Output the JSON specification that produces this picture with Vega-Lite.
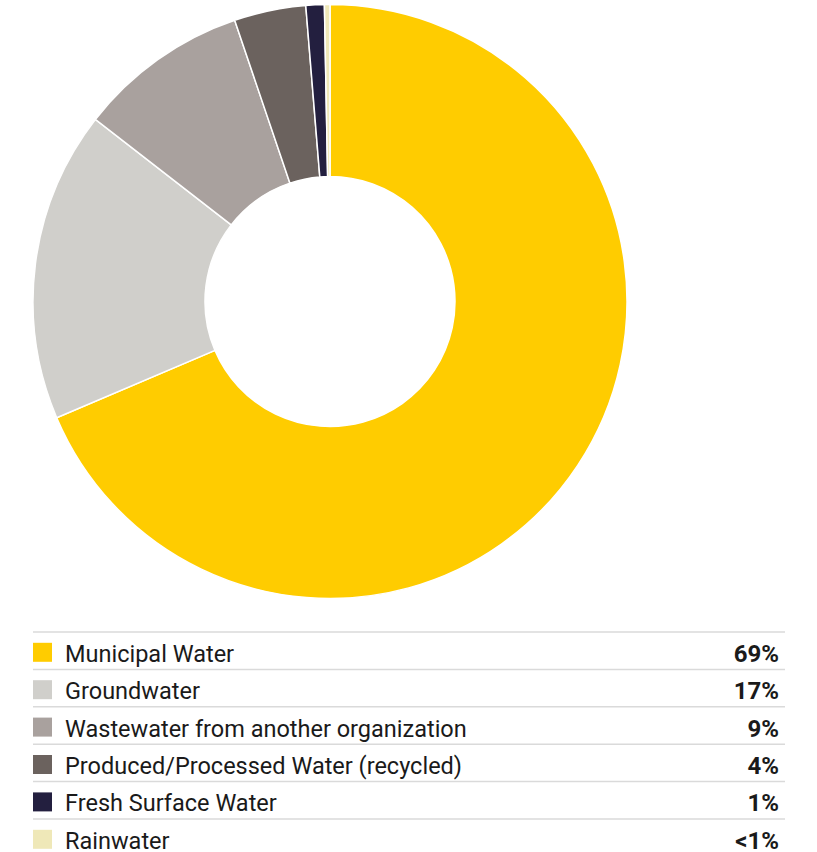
{
  "$schema": "https://vega.github.io/schema/vega-lite/v6.json",
  "padding": 0,
  "background": "white",
  "spacing": 28,
  "config": {"view": {"stroke": null}, "font": "Roboto"},
  "data": {"values": [
    {"order": 1, "source": "Municipal Water", "share": 68.6, "label": "69%"},
    {"order": 2, "source": "Groundwater", "share": 16.9, "label": "17%"},
    {"order": 3, "source": "Wastewater from another organization", "share": 9.3, "label": "9%"},
    {"order": 4, "source": "Produced/Processed Water (recycled)", "share": 3.9, "label": "4%"},
    {"order": 5, "source": "Fresh Surface Water", "share": 1.0, "label": "1%"},
    {"order": 6, "source": "Rainwater", "share": 0.3, "label": "<1%"}
  ]},
  "vconcat": [
    {
      "width": 660,
      "height": 603,
      "mark": {"type": "arc", "radius": 297, "innerRadius": 125, "stroke": "white", "strokeWidth": 1.5},
      "encoding": {
        "theta": {"field": "share", "type": "quantitative", "stack": true},
        "order": {"field": "order", "type": "quantitative"},
        "color": {
          "field": "source", "type": "nominal", "legend": null,
          "scale": {
            "domain": ["Municipal Water", "Groundwater", "Wastewater from another organization", "Produced/Processed Water (recycled)", "Fresh Surface Water", "Rainwater"],
            "range": ["#FFCC00", "#D0CFCB", "#A9A19E", "#6B625E", "#231F3F", "#EFE8B8"]
          }
        }
      }
    },
    {
      "width": 817,
      "height": {"step": 37.4},
      "encoding": {
        "y": {"field": "source", "type": "nominal", "sort": {"field": "order"}, "axis": null,
              "scale": {"paddingInner": 0, "paddingOuter": 0}}
      },
      "layer": [
        {
          "mark": {"type": "rule", "color": "#DADADA", "strokeWidth": 1.5},
          "encoding": {
            "y": {"field": "source", "type": "nominal", "sort": {"field": "order"}, "bandPosition": 0, "axis": null},
            "x": {"value": 33},
            "x2": {"value": 785}
          }
        },
        {
          "mark": {"type": "square", "size": 361, "opacity": 1, "filled": true, "yOffset": 1.6},
          "encoding": {
            "x": {"value": 42.5},
            "color": {"field": "source", "type": "nominal", "legend": null,
              "scale": {
                "domain": ["Municipal Water", "Groundwater", "Wastewater from another organization", "Produced/Processed Water (recycled)", "Fresh Surface Water", "Rainwater"],
                "range": ["#FFCC00", "#D0CFCB", "#A9A19E", "#6B625E", "#231F3F", "#EFE8B8"]
              }}
          }
        },
        {
          "mark": {"type": "text", "align": "left", "baseline": "alphabetic", "dy": 11, "fontSize": 23.5, "color": "#1A1A1A"},
          "encoding": {
            "x": {"value": 65},
            "text": {"field": "source"}
          }
        },
        {
          "mark": {"type": "text", "align": "right", "baseline": "alphabetic", "dy": 11, "fontSize": 24, "fontWeight": "bold", "color": "#1A1A1A"},
          "encoding": {
            "x": {"value": 779},
            "text": {"field": "label"}
          }
        }
      ]
    }
  ]
}
